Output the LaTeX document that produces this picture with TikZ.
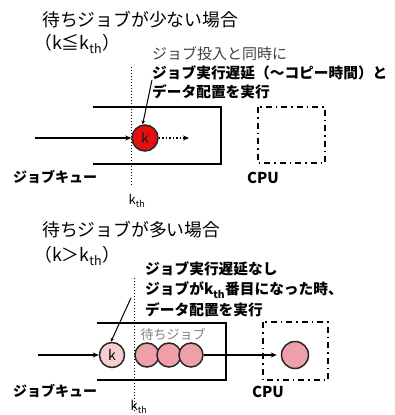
\documentclass[tikz,border=0pt]{standalone}
\usepackage{fontspec}
\setmainfont{Noto Sans CJK JP}
\usetikzlibrary{arrows.meta}
\definecolor{jobred}{HTML}{E41010}
\definecolor{jobpink}{HTML}{EE9FA8}
\definecolor{jobpale}{HTML}{F7CDD2}
\tikzset{
  txt/.style={inner sep=0pt, anchor=west},
  title/.style={txt, font=\fontsize{17.8}{19}\selectfont},
  note/.style={txt, font=\fontsize{14.7}{16}\selectfont\bfseries},
  queue/.style={line width=1.8pt},
  cpubox/.style={line width=1.5pt, dash pattern=on 6pt off 4pt on 1.5pt off 4pt},
  flow/.style={line width=1.5pt, -{Stealth[length=6pt,width=5pt]}},
  lead/.style={line width=1pt, -{Stealth[length=4pt,width=3.5pt]}},
  thr/.style={line width=1pt, dotted},
  job/.style={circle, draw=black!85, line width=1.5pt, inner sep=0pt},
  kth/.style={inner sep=0pt, font=\fontsize{13}{14}\selectfont},
  lab/.style={inner sep=0pt, font=\fontsize{14}{15}\selectfont\bfseries},
}
\begin{document}
\begin{tikzpicture}[x=1pt,y=-1pt]
\useasboundingbox (0,0) rectangle (395,415);
% ---------- top case ----------
\node[title] (t1) at (42,20) {待ちジョブが少ない場合};
\node[title] (c1) at (34,44) {（k≦k\textsubscript{th}）};
\node[txt, font=\fontsize{15}{16}\selectfont, text=black!75] (n1a) at (152,54) {ジョブ投入と同時に};
\node[note] (n1b) at (152,73) {ジョブ実行遅延（～コピー時間）と};
\node[note] (n1c) at (152,92) {データ配置を実行};
\coordinate (q1a) at (93,107);
\coordinate (q1b) at (221,107);
\coordinate (q1c) at (221,164);
\coordinate (q1d) at (93,164);
\draw[queue] (q1a) -- (q1b) -- (q1c) -- (q1d);
\coordinate (d1a) at (131,67);
\coordinate (d1b) at (131,186);
\draw[thr] (d1a) -- (d1b);
\node[job, fill=jobred, minimum size=26pt, font=\fontsize{14}{15}\selectfont, text=black!90] (kA) at (145,138) {k};
\coordinate (in1) at (35,138);
\draw[flow] (in1) -- (kA.west);
\coordinate (out1) at (189,138);
\draw[line width=1.5pt, dotted, -{Stealth[length=6pt,width=5pt]}] (kA.east) -- (out1);
\coordinate (l1) at (152,80);
\draw[lead] (l1) -- (kA.100);
\node[lab] (jq1) at (55,177) {ジョブキュー};
\node[kth] (k1) at (137,201) {k\textsubscript{th}};
\coordinate (cpu1a) at (258,107);
\coordinate (cpu1b) at (325,163);
\draw[cpubox] (cpu1a) rectangle (cpu1b);
\node[lab, font=\fontsize{15}{16}\selectfont\bfseries] (cpu1) at (263,178) {CPU};
% ---------- bottom case ----------
\node[title] (t2) at (42,230) {待ちジョブが多い場合};
\node[title] (c2) at (34,256) {（k＞k\textsubscript{th}）};
\node[note] (n2a) at (145,269) {ジョブ実行遅延なし};
\node[note] (n2b) at (145,290) {ジョブがk\textsubscript{th}番目になった時、};
\node[note] (n2c) at (145,310) {データ配置を実行};
\coordinate (q2a) at (97,323);
\coordinate (q2b) at (226,323);
\coordinate (q2c) at (226,380);
\coordinate (q2d) at (97,380);
\draw[queue] (q2a) -- (q2b) -- (q2c) -- (q2d);
\coordinate (d2a) at (134,278);
\coordinate (d2b) at (134,412);
\draw[thr] (d2a) -- (d2b);
\node[job, fill=jobpale, minimum size=25pt, font=\fontsize{14}{15}\selectfont] (kB) at (112,355) {k};
\coordinate (in2) at (38,355);
\draw[flow] (in2) -- (kB.west);
\coordinate (l2) at (131,298);
\draw[lead] (l2) -- (kB.95);
\node[job, fill=jobpink, minimum size=24pt] (w1) at (147,355) {};
\node[job, fill=jobpink, minimum size=24pt] (w2) at (169,355) {};
\node[job, fill=jobpink, minimum size=24pt] (w3) at (191,355) {};
\node[inner sep=0pt, font=\fontsize{13}{14}\selectfont, text=black!50] (wl) at (173,334) {待ちジョブ};
\coordinate (cpu2a) at (263,322);
\coordinate (cpu2b) at (328,380);
\draw[cpubox] (cpu2a) rectangle (cpu2b);
\node[job, fill=jobpink, minimum size=27pt] (cj) at (295,355) {};
\draw[flow, shorten >=4pt] (w3.east) -- (cj.west);
\node[lab] (jq2) at (55,391) {ジョブキュー};
\node[lab, font=\fontsize{15}{16}\selectfont\bfseries] (cpu2) at (268,392) {CPU};
\node[kth] (k2) at (139,407) {k\textsubscript{th}};
\end{tikzpicture}
\end{document}
